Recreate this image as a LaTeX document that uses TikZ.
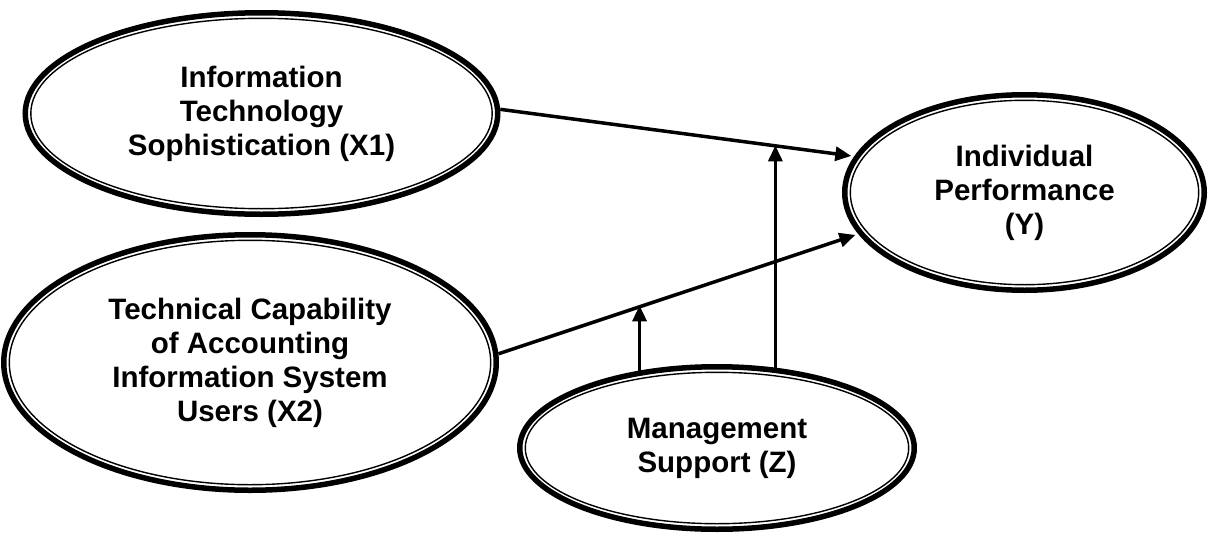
\documentclass[tikz,border=0pt]{standalone}
\usepackage{fontspec}
\setmainfont{Liberation Sans}
\usetikzlibrary{shapes.geometric,arrows.meta,calc}
\begin{document}
\begin{tikzpicture}[x=1pt,y=-1pt,
  var/.style={ellipse, draw, line width=5.5pt, inner sep=0pt, align=center,
    font=\bfseries\fontsize{29.5}{34}\selectfont},
  innerline/.style={line width=1.4pt},
  arr/.style={line width=3.5pt, -{Triangle[length=16pt,width=14pt]}}]
\useasboundingbox (0,0) rectangle (1208,533);
\node[var, minimum width=472.5pt, minimum height=201.5pt] (x1) at (261.5,113.5)
  {Information\\Technology\\Sophistication (X1)};
\draw[innerline] (x1.center) ellipse [x radius=230.7pt, y radius=95.2pt];
\node[var, minimum width=359.5pt, minimum height=195.5pt] (y) at (1024.5,192.5)
  {Individual\\Performance\\(Y)};
\draw[innerline] (y.center) ellipse [x radius=174.2pt, y radius=92.2pt];
\node[var, minimum width=492.5pt, minimum height=255.5pt] (x2) at (250,362.5)
  {Technical Capability\\of Accounting\\Information System\\Users (X2)};
\draw[innerline] (x2.center) ellipse [x radius=240.7pt, y radius=122.2pt];
\node[var, minimum width=394.5pt, minimum height=162.5pt] (z) at (717,448)
  {Management\\Support (Z)};
\draw[innerline] (z.center) ellipse [x radius=191.7pt, y radius=75.7pt];
\draw[arr, shorten >=3pt] (x1.1) -- (y.168);
\draw[arr, shorten >=3pt] (x2.2) -- (y.194);
\coordinate (m1) at ($(x1.1)!0.768!(y.168)$);
\coordinate (m2) at ($(x2.2)!0.404!(y.194)$);
\draw[arr] (z.54) -- (z.54 |- m1);
\draw[arr] (z.135) -- (z.135 |- m2);
\end{tikzpicture}
\end{document}
